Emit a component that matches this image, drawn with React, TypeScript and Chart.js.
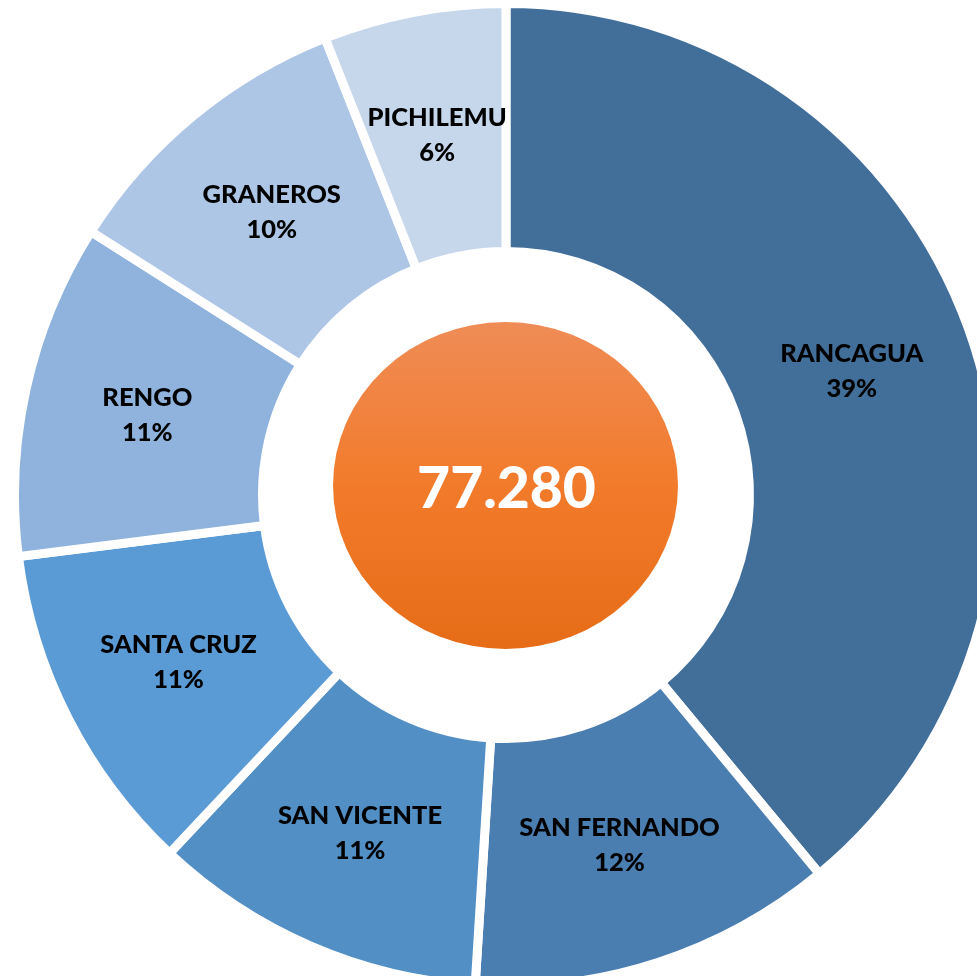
import React, { useEffect, useRef } from "react";
import { Chart, registerables } from "chart.js";

Chart.register(...registerables);

const categories = ["RANCAGUA", "SAN FERNANDO", "SAN VICENTE", "SANTA CRUZ", "RENGO", "GRANEROS", "PICHILEMU"];
const percentages = [39, 12, 11, 11, 11, 10, 6];
const sliceColors = ["#426F9A", "#4A7EB0", "#528FC5", "#5B9BD5", "#8FB3DD", "#ADC6E6", "#C6D7EC"];
const totalLabel = "77.280";

const CANVAS = 1000;
const CENTER_X = 506;
const CENTER_Y = 495;

const labelsPlugin = {
  id: "sliceLabels",
  afterDatasetsDraw(chart: any) {
    const ctx = chart.ctx;
    const meta = chart.getDatasetMeta(0);
    ctx.save();
    ctx.fillStyle = "#000000";
    ctx.textAlign = "center";
    ctx.textBaseline = "alphabetic";
    ctx.font = "900 25.5px Lato";
    meta.data.forEach((arc: any, i: number) => {
      const p = arc.tooltipPosition();
      ctx.fillText(categories[i], p.x, p.y - 8.5);
      ctx.fillText(percentages[i] + "%", p.x, p.y + 26.5);
    });
    // central orange ellipse
    const cx = meta.data[0].x - 0.5;
    const cy = meta.data[0].y - 9.5;
    const rx = 172.5;
    const ry = 163.5;
    const g = ctx.createLinearGradient(0, cy - ry, 0, cy + ry);
    g.addColorStop(0, "#EF8C56");
    g.addColorStop(0.5, "#F27B2B");
    g.addColorStop(1, "#E66C17");
    ctx.beginPath();
    ctx.ellipse(cx, cy, rx, ry, 0, 0, Math.PI * 2);
    ctx.fillStyle = g;
    ctx.fill();
    ctx.fillStyle = "#FFFFFF";
    ctx.font = "900 57px Lato";
    ctx.fillText(totalLabel, cx + 1, cy + 22.5);
    ctx.restore();
  },
};

export default function App() {
  const ref = useRef<HTMLCanvasElement | null>(null);
  useEffect(() => {
    if (!ref.current) return;
    const chart = new Chart(ref.current, {
      type: "doughnut",
      data: {
        labels: categories,
        datasets: [
          {
            data: percentages,
            backgroundColor: sliceColors,
            borderColor: "#FFFFFF",
            borderWidth: 9,
            borderJoinStyle: "miter",
          },
        ],
      },
      options: {
        responsive: false,
        animation: false,
        radius: 491.5,
        cutout: "49.54%",
        layout: { padding: 0 },
        plugins: {
          legend: { display: false },
          tooltip: { enabled: false },
          title: { display: false },
        },
        events: [],
      },
      plugins: [labelsPlugin],
    } as any);
    return () => chart.destroy();
  }, []);
  return (
    <div
      style={{
        position: "fixed",
        left: 0,
        top: 0,
        width: 977,
        height: 976,
        overflow: "hidden",
        background: "#FFFFFF",
      }}
    >
      <canvas
        ref={ref}
        width={CANVAS}
        height={CANVAS}
        style={{
          position: "absolute",
          left: CENTER_X - CANVAS / 2,
          top: CENTER_Y - CANVAS / 2,
          width: CANVAS,
          height: CANVAS,
        }}
      />
    </div>
  );
}
